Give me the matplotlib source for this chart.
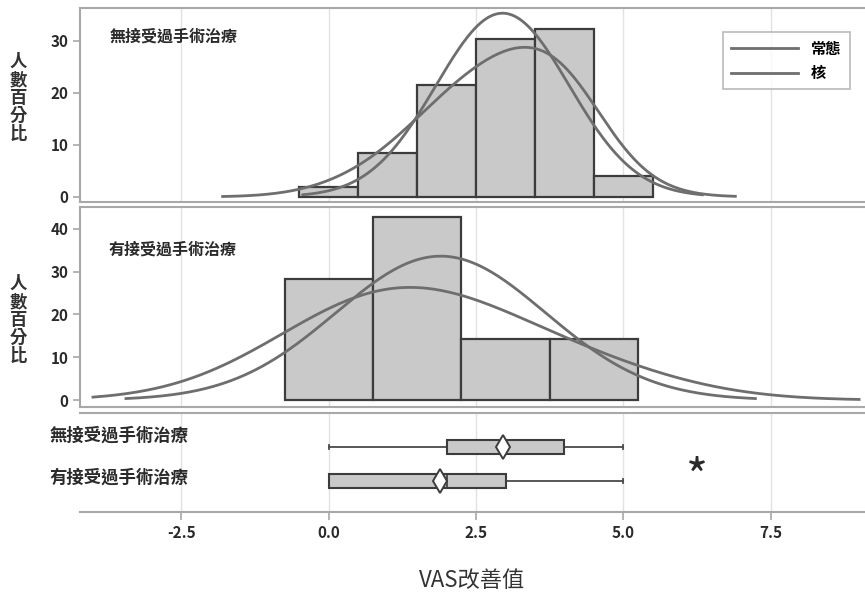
import numpy as np
import matplotlib
matplotlib.use('Agg')
import matplotlib.pyplot as plt

plt.rcParams['font.family'] = ['Noto Sans CJK TC', 'DejaVu Sans']

# Data
groups = ['無接受過手術治療', '有接受過手術治療']

top_centers = [0, 1, 2, 3, 4, 5]           # bin centres, width 1
top_pct = [1.9, 8.5, 21.5, 30.3, 32.3, 4.0]
top_width = 1.0
top_mean, top_sd = 2.95, 1.13              # normal fit
top_bw = 0.75                              # kernel bandwidth
top_kernel_range = (-1.8, 6.9)

bot_centers = [0, 1.5, 3, 4.5]             # bin centres, width 1.5
bot_pct = [28.3, 42.8, 14.3, 14.3]
bot_width = 1.5
bot_mean, bot_sd = 1.9, 1.78
bot_bw = 1.7
bot_kernel_range = (-4.0, 9.0)

# box plot summaries: min, q1, median, q3, max, mean
box_stats = {
    '無接受過手術治療': [0, 2, 3, 4, 5, 2.95],
    '有接受過手術治療': [0, 0, 2, 3, 5, 1.88],
}

x_ticks = [-2.5, 0.0, 2.5, 5.0, 7.5]
x_labels = ['-2.5', '0.0', '2.5', '5.0', '7.5']
xlim = (-4.22, 9.1)

bar_fc = '#c9c9c9'
bar_ec = '#3c3c3c'
curve_c = '#6e6e6e'
frame_c = '#a8a8a8'
grid_c = '#e2e2e2'
text_c = '#2a2a2a'


def normal_curve(mean, sd, width):
    xs = np.linspace(mean - 3 * sd, mean + 3 * sd, 300)
    ys = 100 * width * np.exp(-0.5 * ((xs - mean) / sd) ** 2) / (sd * np.sqrt(2 * np.pi))
    return xs, ys


def kernel_curve(centers, pct, width, bw, rng):
    xs = np.linspace(rng[0], rng[1], 300)
    ys = np.zeros_like(xs)
    for c, p in zip(centers, pct):
        ys += p * np.exp(-0.5 * ((xs - c) / bw) ** 2) / (bw * np.sqrt(2 * np.pi))
    return xs, ys * width


def style_frame(ax):
    for s in ['top', 'bottom', 'left']:
        ax.spines[s].set_color(frame_c)
        ax.spines[s].set_linewidth(1.5)
    ax.spines['right'].set_visible(False)
    ax.set_xlim(*xlim)
    ax.set_xticks(x_ticks)
    ax.xaxis.grid(True, color=grid_c, linewidth=1)
    ax.set_axisbelow(True)
    ax.tick_params(axis='y', colors=frame_c, labelcolor=text_c, labelsize=11, length=5, width=1.2)
    for t in ax.get_yticklabels():
        t.set_fontweight('bold')


fig = plt.figure(figsize=(8.65, 6.07), dpi=100)
ax1 = fig.add_axes([0.0925, 0.6672, 0.9075, 0.3196])
ax2 = fig.add_axes([0.0925, 0.3295, 0.9075, 0.3295])
ax3 = fig.add_axes([0.0925, 0.1565, 0.9075, 0.163])

# top histogram
ax1.bar(top_centers, top_pct, width=top_width, color=bar_fc, edgecolor=bar_ec, linewidth=1.6)
xs, ys = normal_curve(top_mean, top_sd, top_width)
ax1.plot(xs, ys, color=curve_c, linewidth=2, label='常態')
xs, ys = kernel_curve(top_centers, top_pct, top_width, top_bw, top_kernel_range)
ax1.plot(xs, ys, color=curve_c, linewidth=2, label='核')
ax1.set_ylim(-1, 36.3)
ax1.set_yticks([0, 10, 20, 30])
style_frame(ax1)
ax1.tick_params(axis='x', bottom=False, labelbottom=False)
ax1.text(0.038, 0.855, groups[0], transform=ax1.transAxes, fontsize=11.5, fontweight='bold',
         color=text_c, va='center')
leg = ax1.legend(loc='upper right', bbox_to_anchor=(0.99, 0.915), fontsize=11, handlelength=4.4,
                 frameon=True, fancybox=False, borderpad=0.55, labelspacing=0.55,
                 prop={'weight': 'bold', 'size': 11})
leg.get_frame().set_edgecolor(frame_c)
leg.get_frame().set_linewidth(1.2)

# bottom histogram
ax2.bar(bot_centers, bot_pct, width=bot_width, color=bar_fc, edgecolor=bar_ec, linewidth=1.6)
xs, ys = normal_curve(bot_mean, bot_sd, bot_width)
ax2.plot(xs, ys, color=curve_c, linewidth=2)
xs, ys = kernel_curve(bot_centers, bot_pct, bot_width, bot_bw, bot_kernel_range)
ax2.plot(xs, ys, color=curve_c, linewidth=2)
ax2.set_ylim(-1.6, 45.1)
ax2.set_yticks([0, 10, 20, 30, 40])
style_frame(ax2)
ax2.tick_params(axis='x', bottom=False, labelbottom=False)
ax2.text(0.036, 0.785, groups[1], transform=ax2.transAxes, fontsize=11.5, fontweight='bold',
         color=text_c, va='center')

# box plots
style_frame(ax3)
ax3.spines['left'].set_visible(False)
ax3.set_ylim(-0.91, 2.0)
ax3.set_yticks([])
positions = [1, 0]
label_y = [436, 478]
for g, pos, ly in zip(groups, positions, label_y):
    mn, q1, med, q3, mx, mean = box_stats[g]
    ax3.plot([mn, mx], [pos, pos], color='#4a4a4a', linewidth=1.3, zorder=2)
    ax3.plot([mx, mx], [pos - 0.07, pos + 0.07], color='#4a4a4a', linewidth=1.3, zorder=2)
    ax3.plot([mn, mn], [pos - 0.07, pos + 0.07], color='#4a4a4a', linewidth=1.3, zorder=2)
    ax3.add_patch(plt.Rectangle((q1, pos - 0.2), q3 - q1, 0.4, facecolor=bar_fc,
                                edgecolor=bar_ec, linewidth=1.5, zorder=3))
    ax3.plot([med, med], [pos - 0.2, pos + 0.2], color=bar_ec, linewidth=1.2, zorder=4)
    ax3.plot(mean, pos, marker='d', markersize=12, markerfacecolor='white',
             markeredgecolor=bar_ec, markeredgewidth=1.4, zorder=5)
    fig.text(0.218, 1 - ly / 607, g, fontsize=12.5, fontweight='bold', ha='right', va='center', color=text_c)
ax3.text(6.25, 0.05, '*', fontsize=34, ha='center', va='center', color=text_c)
ax3.tick_params(axis='x', colors=frame_c, labelcolor=text_c, labelsize=11, length=6, width=1.2)
ax3.set_xticklabels(x_labels, fontweight='bold')
ax3.set_xlabel('VAS改善值', fontsize=16, color='#333333', labelpad=20)

# y axis labels, stacked characters
ylab = '\n'.join('人數百分比')
for yc in [98, 320]:
    fig.text(0.021, 1 - yc / 607, ylab, fontsize=12.5, fontweight='bold', ha='center', va='center',
             linespacing=1.0, color='#333333')

fig.savefig('out.png', dpi=100)
